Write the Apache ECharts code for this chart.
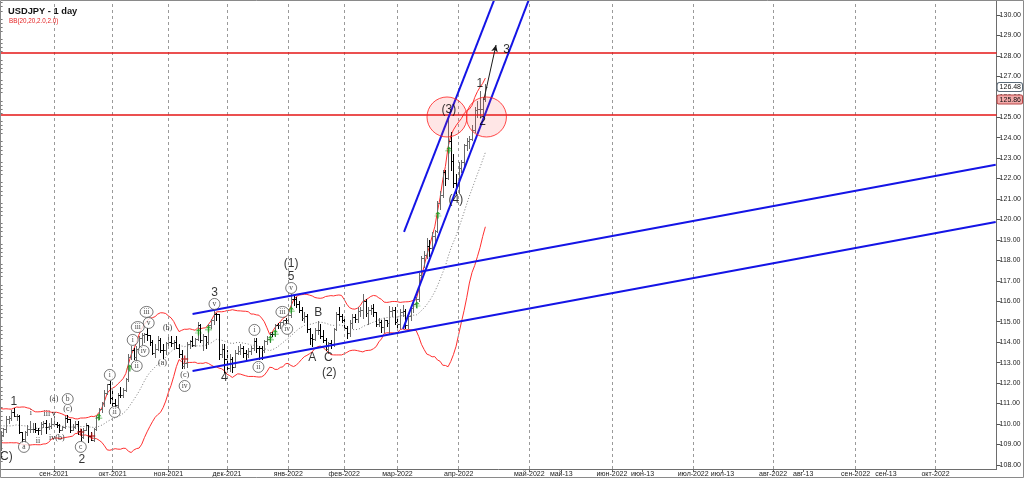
<!DOCTYPE html>
<html><head><meta charset="utf-8">
<script src="https://cdn.jsdelivr.net/npm/echarts@6/dist/echarts.min.js"></script>
<style>html,body{margin:0;padding:0;background:#fff}#c{width:1024px;height:479px}</style>
</head><body><div id="c"></div>
<script>
// ---- price data (daily USDJPY, bar index 0 = 4 Aug 2021) ----
const prevCloses = [110.17,110.14,110.36,110.62,109.97,109.81,110.07,109.47,109.85,110.29,110.15,110.55,110.38,109.78,109.92,109.48,109.70,109.30,109.03];
const opens = [
 109.03,109.48,109.77,110.24,110.28,110.58,110.41,110.41,109.59,109.27,109.61,109.77,109.77,109.78,109.72,109.69,110.01,110.06,109.84,109.92,
 110.02,110.02,109.93,109.71,109.84,110.31,110.25,109.72,109.87,110.01,109.68,109.38,109.71,109.95,109.41,109.23,109.78,110.33,110.74,111.01,111.52,111.98,
 111.29,111.05,110.93,111.44,111.42,111.64,112.22,113.27,113.60,113.26,113.68,114.22,114.35,114.38,114.33,114.00,113.47,113.68,114.13,113.64,113.60,
 113.95,114.00,113.94,114.03,113.74,113.40,112.86,112.96,113.90,114.06,113.87,114.14,114.82,114.09,114.28,114.00,114.85,115.10,115.40,115.37,113.40,113.65,
 113.16,112.76,113.17,112.80,113.48,113.57,113.74,113.49,113.43,113.56,113.72,114.07,113.72,113.70,113.60,114.08,114.14,114.40,114.38,114.84,114.83,114.97,115.09,
 115.08,115.31,116.13,116.12,115.85,115.55,115.19,115.28,114.65,114.19,114.18,114.59,114.60,114.31,114.11,113.68,113.98,113.85,114.66,115.36,115.26,
 115.10,114.70,114.44,114.96,115.24,115.11,115.52,115.55,116.02,115.42,115.56,115.68,115.47,114.90,115.01,114.73,115.09,114.92,115.52,115.55,
 114.98,114.88,115.48,115.51,114.83,115.28,115.68,115.86,116.13,117.29,118.14,118.27,118.70,118.60,119.18,119.45,120.79,121.20,122.30,122.02,123.83,122.85,121.80,
 121.69,122.52,122.83,123.63,123.83,123.95,124.36,125.34,125.39,125.40,125.90];
const highs = [
 109.66,109.81,110.37,110.37,110.68,110.80,110.49,110.45,109.60,109.67,109.96,110.16,110.05,110.05,109.79,110.12,110.15,110.20,110.06,110.28,
 110.40,110.09,110.00,109.90,110.40,110.44,110.25,110.00,110.15,110.15,109.75,109.80,110.05,109.95,109.60,109.80,110.40,110.80,111.10,111.68,111.98,112.08,
 111.60,111.20,111.50,111.80,111.75,112.25,113.41,113.80,113.70,113.80,114.30,114.45,114.46,114.70,114.35,114.10,113.90,114.30,114.20,113.90,114.00,
 114.40,114.28,114.10,114.30,113.90,113.60,113.10,114.00,114.10,114.30,114.20,114.97,114.90,114.40,114.30,114.90,115.15,115.52,115.45,115.40,113.90,113.90,
 113.60,113.40,113.30,113.60,113.80,113.90,113.80,113.60,113.70,113.80,114.20,114.20,113.80,113.80,114.10,114.30,114.50,114.50,114.90,114.95,115.00,115.10,115.20,
 115.60,116.35,116.30,116.20,116.00,115.70,115.50,115.40,114.70,114.40,114.70,115.05,114.90,114.60,114.20,114.00,114.10,114.70,115.50,115.70,115.40,
 115.20,114.80,115.10,115.40,115.40,115.70,115.70,116.34,116.10,115.70,115.80,115.85,115.50,115.20,115.10,115.20,115.10,115.75,115.70,115.70,
 115.20,115.60,115.80,115.60,115.40,115.80,116.00,116.20,117.40,118.20,118.45,119.10,119.00,119.40,119.50,120.90,121.40,122.40,122.40,125.10,124.30,123.20,122.20,
 122.80,122.90,123.70,124.00,124.10,124.60,125.50,125.80,126.30,126.00,126.60];
const lows = [
 108.72,109.43,109.60,110.05,110.20,110.38,110.20,109.55,109.12,109.12,109.46,109.62,109.60,109.60,109.50,109.50,109.87,109.57,109.78,109.82,
 109.90,109.85,109.59,109.70,109.80,110.10,109.60,109.70,109.80,109.50,109.20,109.30,109.70,109.10,109.20,109.15,109.70,110.25,110.60,110.90,111.45,111.05,
 110.90,110.82,110.85,111.30,111.30,111.60,112.10,113.20,113.20,113.10,113.60,113.90,114.00,114.10,113.85,113.40,113.30,113.60,113.50,113.25,113.40,
 113.80,113.80,113.67,113.70,113.30,112.73,112.73,112.80,113.70,113.80,113.80,114.10,114.00,113.60,113.70,113.90,114.70,114.90,115.10,113.20,113.30,112.55,
 112.70,112.60,112.55,112.80,113.40,113.40,113.30,113.20,113.30,113.40,113.60,113.50,113.20,113.20,113.50,113.90,114.00,114.30,114.30,114.70,114.70,114.80,114.90,
 115.00,115.25,115.80,115.70,115.50,115.10,115.00,114.50,113.90,113.80,114.10,114.40,114.20,114.00,113.60,113.46,113.70,113.80,114.60,115.10,115.00,
 114.60,114.20,114.30,114.70,115.00,115.00,115.30,115.20,115.30,114.90,115.40,115.30,114.80,114.80,114.50,114.50,114.80,114.41,115.30,114.90,
 114.65,114.70,115.30,114.70,114.70,115.10,115.50,115.70,116.00,117.20,117.70,118.10,118.20,118.50,118.90,119.40,120.50,121.10,121.70,122.00,122.40,121.60,121.30,
 121.30,122.30,122.60,123.40,123.50,123.90,124.30,125.00,125.00,125.10,125.80];
const closes = [
 109.48,109.77,110.24,110.28,110.58,110.41,110.41,109.59,109.27,109.61,109.77,109.77,109.78,109.72,109.69,110.01,110.06,109.84,109.92,110.02,
 110.02,109.93,109.71,109.84,110.31,110.25,109.72,109.87,110.01,109.68,109.38,109.71,109.95,109.41,109.23,109.78,110.33,110.74,111.01,111.52,111.98,111.29,
 111.05,110.93,111.44,111.42,111.64,112.22,113.27,113.60,113.26,113.68,114.22,114.35,114.38,114.33,114.00,113.47,113.68,114.13,113.64,113.60,113.95,
 114.00,113.94,114.03,113.74,113.40,112.86,112.96,113.90,114.06,113.87,114.14,114.82,114.09,114.28,114.00,114.85,115.10,115.40,115.37,113.40,113.65,113.16,
 112.76,113.17,112.80,113.48,113.57,113.74,113.49,113.43,113.56,113.72,114.07,113.72,113.70,113.60,114.08,114.14,114.40,114.38,114.84,114.83,114.97,115.09,115.08,
 115.31,116.13,116.12,115.85,115.55,115.19,115.28,114.65,114.19,114.18,114.59,114.60,114.31,114.11,113.68,113.98,113.85,114.66,115.36,115.26,115.10,
 114.70,114.44,114.96,115.24,115.11,115.52,115.55,116.02,115.42,115.56,115.68,115.47,114.90,115.01,114.73,115.09,114.92,115.52,115.55,114.98,
 114.88,115.48,115.51,114.83,115.28,115.68,115.86,116.13,117.29,118.14,118.27,118.70,118.60,119.18,119.45,120.79,121.20,122.30,122.02,123.83,122.85,121.80,121.69,
 122.52,122.83,123.63,123.83,123.95,124.36,125.34,125.39,125.40,125.90,126.48];

// ---- axes ----
const yTicks = [108,109,110,111,112,113,114,115,116,117,118,119,120,121,122,123,124,125,126,127,128,129,130];
const xTickPos = [20,42,63,85,108,129,149,172,198.5,210.5,229.5,241,260,271,290,301.3,321,332.4,351];
const xTickLabels = ['сен-2021','окт-2021','ноя-2021','дек-2021','янв-2022','фев-2022','мар-2022','апр-2022','май-2022','май-13','июн-2022','июн-13','июл-2022','июл-13','авг-2022','авг-13','сен-2022','сен-13','окт-2022'];
const monthLines = [20,42,63,85,108,129,149,172,198.5,229.5,260,290,321,351];

// ---- drawings (bar index, price) ----
const levels = [128.14, 125.11];
const priceTags = [126.48, 125.86];
const channelUpper = [[72.06,115.38],[373.6,122.67]];
const channelLower = [[72.06,112.59],[373.6,119.88]];
const steepUpper = [[151.46,119.39],[187.8,131.57]];
const steepLower = [[151.09,114.65],[200.6,131.52]];
const circleCenters = [[167.6,125.01],[182.4,125.01]];
const arrowPath = [[181.4,125.84],[186.0,128.53]];
const bigLabels = [['(C)',1.4,108.39],['1',5.0,111.08],['2',30.5,108.24],['3',80.3,116.41],['4',84.0,112.25],['(1)',109.1,117.82],['5',109.1,117.19],['A',117.0,113.23],['B',119.25,115.43],['C',123.0,113.23],['(2)',123.4,112.49],['(3)',168.3,125.35],['(4)',170.9,120.95],['1',179.9,126.63],['2',181.0,124.77],['3',190.0,128.29]];
const smallLabels = [['i',11.4,110.54],['iii',17.4,110.49],['v',20.0,110.49],['ii',14.0,109.17],['iv(b)',21.1,109.32],['(a)',20.0,111.22],['(c)',25.2,110.73],['(b)',62.7,114.69],['(a)',60.8,112.98],['(c)',69.1,112.40]];
const circledLabels = [['a',8.76,108.88],['c',30.1,108.88],['b',25.2,111.22],['i',41.0,112.40],['ii',42.85,110.59],['iii',54.8,115.48],['iii',51.5,114.74],['v',55.6,114.94],['i',49.6,114.11],['iv',53.7,113.57],['ii',51.1,112.84],['iv',69.1,111.86],['v',80.3,115.87],['v',109.1,116.65],['iii',105.8,115.48],['iv',107.6,114.65],['i',95.3,114.60],['ii',96.8,112.79]];
const buySignals = [[36.85,110.34],[48.5,112.74],[74.3,114.50],[78.05,114.65],[101.3,114.16],[103.1,114.45],[109.1,115.57],[156.3,115.82],[164.2,120.22],[168.3,123.40]];
const sellSignals = [[30.1,109.61],[34.2,109.41],[69.1,113.18]];

// ---- build ----
const N = Math.min(opens.length, highs.length, lows.length, closes.length);
const ohlc = [];
for (let i = 0; i < N; i++) ohlc.push([i, opens[i], highs[i], lows[i], closes[i]]);
// Bollinger Bands (20, 2.0) of the closes
const allC = prevCloses.concat(closes.slice(0, N));
const bbU = [], bbL = [], bbM = [];
for (let i = 0; i < N; i++) {
  const w = allC.slice(i, i + 20);
  const m = w.reduce((a, b) => a + b, 0) / w.length;
  const sd = Math.sqrt(w.reduce((a, b) => a + (b - m) * (b - m), 0) / w.length);
  bbM.push([i, m]); bbU.push([i, m + 2 * sd]); bbL.push([i, m - 2 * sd]);
}
const minorTicks = [];
for (let k = 0; k < yTicks.length + 1; k++) for (let j = 1; j < 5; j++) minorTicks.push(107 + k + j * 0.2);
const xLabelMap = new Map(xTickPos.map((p, i) => [p, xTickLabels[i]]));

const FONT = 'Liberation Sans';
const BLUE = '#1414e6';
function lineSeries(pts){
  return {type:'line', data:pts, showSymbol:false, symbol:'none', silent:true, z:5,
    lineStyle:{color:BLUE, width:2}, clip:true, animation:false};
}
function tagLabel(v, bg, border, radius){
  return {show:true, position:'end', distance:1, formatter:()=>v.toFixed(2), fontSize:7, fontFamily:FONT,
    color:'#111', backgroundColor:bg, borderColor:border, borderWidth:1, borderRadius:radius, padding:[1,1,0,2]};
}
const chart = echarts.init(document.getElementById('c'), null, {renderer:'canvas'});
chart.setOption({
  animation:false,
  backgroundColor:'#fff',
  title:[
    {text:'USDJPY - 1 day', left:3, top:1, textStyle:{fontSize:9.3, fontWeight:'bold', color:'#151515', fontFamily:FONT, lineHeight:10}},
    {text:'BB(20,20,2.0,2.0)', left:4, top:12.5, textStyle:{fontSize:6.3, fontWeight:'normal', color:'#e42222', fontFamily:FONT, lineHeight:7}}
  ],
  grid:{left:0, top:0, width:999, height:469, containLabel:false},
  xAxis:{type:'value', min:-0.225, max:373.93,
    axisLine:{show:true, onZero:false, lineStyle:{color:'#6d6d6d', width:1}},
    axisTick:{show:true, customValues:xTickPos, length:3, lineStyle:{color:'#6d6d6d'}},
    axisLabel:{show:true, customValues:xTickPos, formatter:(v)=>xLabelMap.get(v) || '', fontSize:7, color:'#222', margin:2, fontFamily:FONT},
    splitLine:{show:false}},
  yAxis:[
    {type:'value', position:'right', min:107.8, max:130.73,
      axisLine:{show:true, onZero:false, lineStyle:{color:'#6d6d6d', width:1}},
      axisTick:{show:true, customValues:yTicks, length:4, lineStyle:{color:'#555'}},
      axisLabel:{show:true, customValues:yTicks, formatter:(v)=>Number(v).toFixed(2), fontSize:7, color:'#222', margin:3, fontFamily:FONT},
      splitLine:{show:false}},
    {type:'value', position:'right', min:107.8, max:130.73,
      axisLine:{show:false},
      axisTick:{show:true, customValues:minorTicks, length:2, lineStyle:{color:'#777'}},
      axisLabel:{show:false}, splitLine:{show:false}}
  ],
  series:[
    {type:'line', data:[[0,120]], showSymbol:false, symbol:'none', silent:true, lineStyle:{opacity:0}, z:1,
      markLine:{silent:true, symbol:'none', label:{show:false},
        lineStyle:{color:'#9a9a9a', width:1, type:[3,3]},
        data:monthLines.map(v=>({xAxis:v}))}},
    {type:'line', data:bbM, showSymbol:false, symbol:'none', silent:true, z:2, lineStyle:{color:'#7a7a7a', width:1, type:[1,2]}},
    {type:'line', data:bbU, showSymbol:false, symbol:'none', silent:true, z:2, lineStyle:{color:'#ff3030', width:1}},
    {type:'line', data:bbL, showSymbol:false, symbol:'none', silent:true, z:2, lineStyle:{color:'#ff3030', width:1}},
    {type:'custom', data:ohlc, encode:{x:0, y:[1,2,3,4]}, z:3, silent:true, clip:true,
      renderItem:function(params, api){
        const i = api.value(0), o = api.value(1), h = api.value(2), l = api.value(3), c = api.value(4);
        const ph = api.coord([i, h]), pl = api.coord([i, l]), po = api.coord([i, o]), pc = api.coord([i, c]);
        const x = Math.round(ph[0]) + 0.5;
        const col = c >= o ? '#6a6a6a' : '#000000';
        const yo = Math.round(po[1]) + 0.5, yc = Math.round(pc[1]) + 0.5;
        return {type:'group', children:[
          {type:'line', shape:{x1:x, y1:Math.round(ph[1]), x2:x, y2:Math.round(pl[1]) + 1}, style:{stroke:col, lineWidth:1}},
          {type:'line', shape:{x1:x - 2, y1:yo, x2:x, y2:yo}, style:{stroke:col, lineWidth:1}},
          {type:'line', shape:{x1:x, y1:yc, x2:x + 2, y2:yc}, style:{stroke:col, lineWidth:1}}
        ]};
      }},
    lineSeries(channelUpper), lineSeries(channelLower), lineSeries(steepUpper), lineSeries(steepLower),
    {type:'scatter', data:circleCenters, symbol:'circle', symbolSize:40, silent:true, z:6,
      itemStyle:{color:'rgba(255,70,70,0.17)', borderColor:'#ff1f1f', borderWidth:1}},
    {type:'line', data:[[0,120]], showSymbol:false, symbol:'none', silent:true, lineStyle:{opacity:0}, z:7,
      markLine:{silent:true, symbol:'none', label:{show:false},
        lineStyle:{color:'#e41616', width:1.6, type:'solid'},
        data:levels.map(v=>({yAxis:v}))}},
    {type:'line', data:[[0,120]], showSymbol:false, symbol:'none', silent:true, lineStyle:{opacity:0}, z:8,
      markLine:{silent:true, symbol:['none','arrow'], symbolSize:[5,7],
        lineStyle:{color:'#1a1a1a', width:1, type:'solid'}, label:{show:false},
        data:[[{coord:arrowPath[0]},{coord:arrowPath[1]}]]}},
    {type:'line', data:[[0,120]], showSymbol:false, symbol:'none', silent:true, lineStyle:{opacity:0}, z:20,
      markLine:{silent:true, symbol:'none', lineStyle:{width:1, color:'rgba(0,0,0,0)', type:'solid'},
        data:[
          {yAxis:priceTags[0], label:tagLabel(priceTags[0], '#ffffff', '#5a6a78', 2)},
          {yAxis:priceTags[1], label:tagLabel(priceTags[1], '#f2a9a9', '#b84646', 1)}
        ]}},
    {type:'scatter', data:buySignals, symbol:'path://M5,0 L9,4 L6,4 L6,6 L10,6 L10,7 L6,7 L6,10 L4,10 L4,7 L0,7 L0,6 L4,6 L4,4 L1,4 Z', symbolSize:7, silent:true, z:10,
      itemStyle:{color:'#15a015'}},
    {type:'scatter', data:sellSignals, symbol:'path://M4,0 H6 V4 H10 V6 H6 V10 H4 V6 H0 V4 H4 Z', symbolSize:7, silent:true, z:10,
      itemStyle:{color:'#b41414'}},
    {type:'scatter', clip:false, silent:true, z:11, symbol:'circle',
      data:circledLabels.map(d=>({name:d[0], value:[d[1], d[2]], symbolSize: d[0].length >= 3 ? [13,11] : 11})),
      itemStyle:{color:'#ffffff', borderColor:'#444', borderWidth:0.9},
      label:{show:true, position:'inside', formatter:'{b}', fontSize:7.5, color:'#111', fontFamily:'Liberation Serif', textBorderWidth:0}},
    {type:'scatter', clip:false, silent:true, z:11, symbolSize:1,
      data:smallLabels.map(d=>({name:d[0], value:[d[1], d[2]]})),
      itemStyle:{color:'transparent'},
      label:{show:true, position:'inside', formatter:'{b}', fontSize:8, color:'#000', fontFamily:'Liberation Serif', textBorderWidth:0}},
    {type:'scatter', clip:false, silent:true, z:12, symbolSize:1,
      data:bigLabels.map(d=>({name:d[0], value:[d[1], d[2]]})),
      itemStyle:{color:'transparent'},
      label:{show:true, position:'inside', formatter:'{b}', fontSize:12, color:'#000', fontFamily:FONT, textBorderWidth:0}}
  ],
  graphic:[{type:'rect', silent:true, z:100, shape:{x:0.5, y:0.5, width:1023, height:477}, style:{fill:'none', stroke:'#8a8a8a', lineWidth:1}}]
});
</script></body></html>
